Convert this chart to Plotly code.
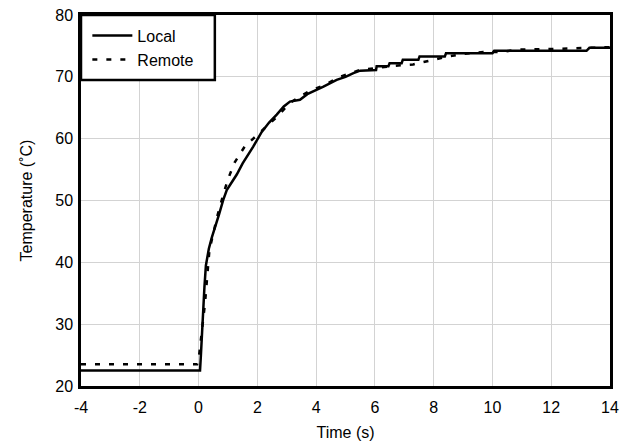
import plotly.graph_objects as go

local_t = [-4, 0.05, 0.08, 0.13, 0.2, 0.25, 0.35, 0.45, 0.56, 0.7, 0.84, 0.96, 1.07, 1.3, 1.5, 1.69,
           1.86, 2.15, 2.4, 2.66, 2.9, 3.11, 3.45, 3.7, 3.9, 4.25, 4.7, 5.0, 5.27, 5.5, 6.04, 6.06,
           6.46, 6.5, 6.91, 6.95, 7.48, 7.52, 8.38, 8.42, 10.0, 10.06, 13.2, 13.3, 14.0]
local_T = [22.5, 22.5, 25.0, 30.1, 36.0, 39.5, 42.2, 44.0, 45.6, 47.8, 50.1, 51.7, 52.5, 54.2, 56.0, 57.4,
           58.7, 61.1, 62.6, 63.9, 65.2, 66.0, 66.3, 67.2, 67.6, 68.4, 69.5, 70.0, 70.6, 71.0, 71.1, 71.7,
           71.7, 72.2, 72.2, 72.75, 72.75, 73.3, 73.3, 73.8, 73.8, 74.2, 74.2, 74.7, 74.7]

remote_t = [-4, -0.05, 0.02, 0.1, 0.22, 0.37, 0.5, 0.65, 0.82, 0.99, 1.22, 1.58, 2.09, 2.66, 3.11,
            3.73, 4.25, 4.81, 5.49, 6.0, 6.68, 7.3, 7.87, 8.5, 9.0, 9.69, 10.26, 10.88, 12.07, 13.0,
            13.9, 14.0]
remote_T = [23.5, 23.5, 25.0, 28.0, 33.4, 42.0, 44.7, 47.7, 50.6, 53.3, 56.1, 58.8, 61.0, 63.5, 65.8,
            67.6, 68.6, 70.0, 71.1, 71.4, 71.8, 72.0, 72.6, 73.3, 73.7, 74.0, 74.0, 74.4, 74.5, 74.6,
            74.8, 74.8]

x_ticks = [-4, -2, 0, 2, 4, 6, 8, 10, 12, 14]
y_ticks = [20, 30, 40, 50, 60, 70, 80]

font = "Liberation Sans, Arial, sans-serif"

fig = go.Figure()
fig.add_trace(go.Scatter(x=local_t, y=local_T, mode="lines", name="Local",
                         line=dict(color="black", width=2.5)))
fig.add_trace(go.Scatter(x=remote_t, y=remote_T, mode="lines", name="Remote",
                         line=dict(color="black", width=2.5, dash="5px,9px")))

# legend frame
fig.add_shape(type="rect", xref="paper", yref="paper", x0=0, x1=0.253, y0=0.825, y1=1,
              line=dict(color="black", width=2.5), fillcolor="white", layer="above")

# page body has an 8px default margin: compensate
fig.update_layout(
    template="none",
    width=625, height=435,
    margin=dict(l=73, r=23, t=7, b=57, pad=0, autoexpand=False),
    paper_bgcolor="white", plot_bgcolor="white",
    font=dict(family=font, size=16, color="black"),
    showlegend=True,
    legend=dict(x=0.012, y=0.99, xanchor="left", yanchor="top", bgcolor="rgba(0,0,0,0)",
                borderwidth=0, font=dict(size=16), tracegroupgap=0, itemwidth=40),
    xaxis=dict(range=[-4, 14], tickvals=x_ticks, ticktext=[str(v) for v in x_ticks],
               showgrid=True, gridcolor="#d3d3d3", gridwidth=1, zeroline=False, automargin=False,
               showline=True, linecolor="black", linewidth=2.5, mirror=True, ticks="",
               ticklabeloverflow="allow", ticklabelstandoff=5,
               title=dict(text="Time (s)", standoff=12, font=dict(size=16))),
    yaxis=dict(range=[20, 80], tickvals=y_ticks, ticktext=[str(v) for v in y_ticks],
               showgrid=True, gridcolor="#d3d3d3", gridwidth=1, zeroline=False, automargin=False,
               showline=True, linecolor="black", linewidth=2.5, mirror=True, ticks="",
               ticklabeloverflow="allow", ticklabelstandoff=2,
               title=dict(text="Temperature (˚C)", standoff=19, font=dict(size=16))),
)

fig.write_html("out.html")
